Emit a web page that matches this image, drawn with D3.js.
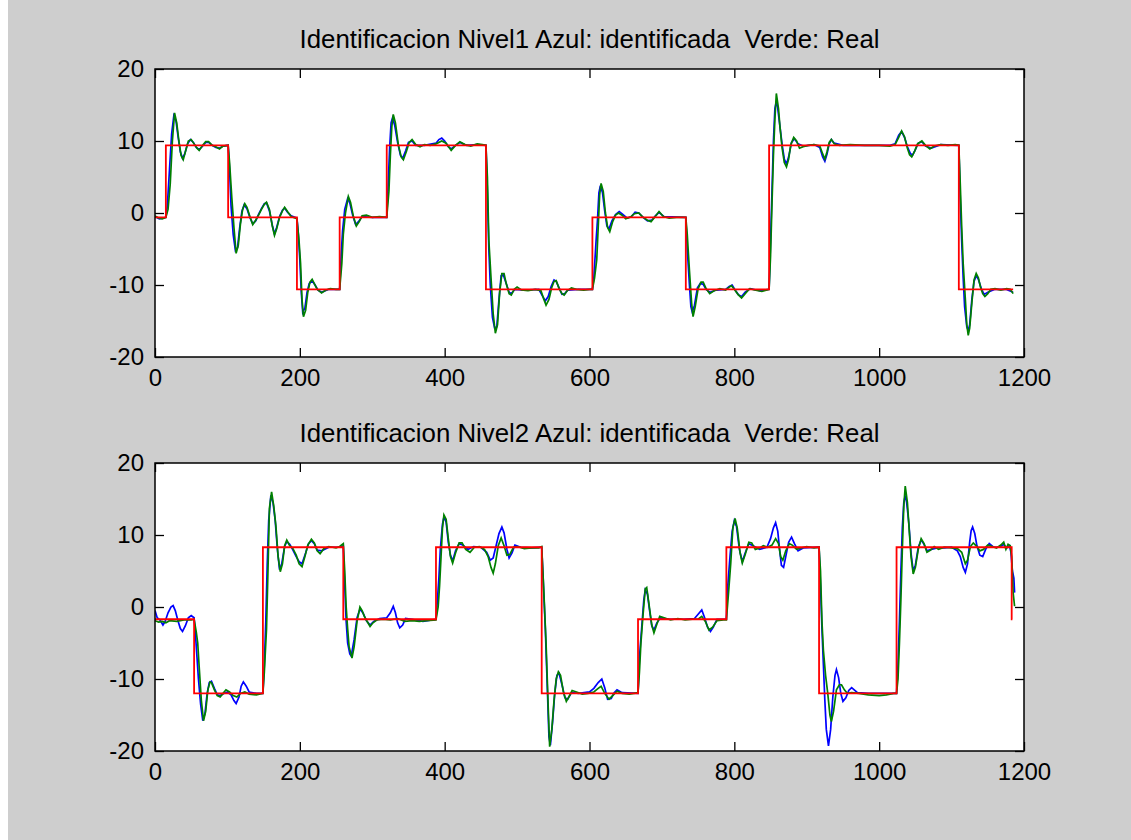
<!DOCTYPE html>
<html>
<head>
<meta charset="utf-8">
<script src="https://cdn.jsdelivr.net/npm/d3@7"></script>
<style>
  html, body { margin: 0; padding: 0; background: #cecece; }
  svg { display: block; }
  text { font-family: "Liberation Sans", Arial, Helvetica, sans-serif; fill: #000; }
</style>
</head>
<body>
<svg id="fig" width="1131" height="840"></svg>
<script>
// ---------------- DATA ----------------
const xTicks = [0, 200, 400, 600, 800, 1000, 1200];
const yTicks = [-20, -10, 0, 10, 20];
const titles = [
  "Identificacion Nivel1 Azul: identificada  Verde: Real",
  "Identificacion Nivel2 Azul: identificada  Verde: Real"
];

// reference (red) step signals: switch times and the level held after each switch
const refTimes1  = [0, 15, 101, 196, 255, 320, 457, 604, 733, 848, 1110, 1185];
const refLevels1 = [-0.6, 9.4, -0.6, -10.6, -0.6, 9.4, -10.6, -0.6, -10.6, 9.4, -10.6];
const refTimes2  = [0, 54, 149, 260, 388, 534, 667, 789, 917, 1024, 1183, 1184];
const refLevels2 = [-1.7, -12.0, 8.3, -1.7, 8.3, -12.0, -1.7, 8.3, -12.0, 8.3, -1.7];

// identified output (blue), level 1
const blue1 = [[0,-0.5],[6,-0.8],[12,-0.7],[15,-0.6],[17,1],[20,6],[23,11],[26,13.5],[29,12.8],[32,10.5],[35,8.5],[38,7.6],[41,8.2],[45,9.6],[49,10.2],[53,9.8],[57,9.1],[61,8.8],[65,9.2],[70,9.8],[74,9.8],[79,9.4],[84,9.1],[89,9.0],[94,9.3],[101,9.4],[103,6],[105,1],[108,-3],[111,-5.2],[114,-4.8],[117,-2],[120,0.2],[123,1.1],[127,0.6],[131,-0.6],[135,-1.5],[139,-1.1],[143,-0.2],[147,0.6],[151,1.3],[154,1.4],[158,0.3],[162,-1.7],[165,-2.9],[168,-2.0],[172,-0.5],[176,0.4],[179,0.7],[183,0.1],[188,-0.4],[196,-0.7],[198,-3],[200,-6.5],[202,-11],[204,-13.8],[207,-13.2],[210,-11],[213,-9.8],[217,-9.4],[221,-10],[225,-10.7],[230,-11.0],[240,-10.6],[255,-10.6],[257,-6],[259,-2.5],[262,0.5],[266,2.0],[269,1.4],[273,-0.3],[277,-1.6],[281,-1.2],[286,-0.5],[300,-0.6],[320,-0.6],[322,4],[324,9],[326,12.5],[328,13.2],[331,12.2],[335,9.8],[339,8],[342,7.6],[346,8.6],[350,9.8],[355,10.0],[360,9.4],[372,9.4],[388,9.7],[392,10.2],[396,10.4],[400,10.0],[405,9.2],[409,8.9],[415,9.4],[421,9.8],[430,9.4],[445,9.5],[457,9.4],[459,3],[461,-5],[463,-10],[466,-14.5],[469,-16],[472,-15.8],[475,-12],[478,-8.7],[481,-8.6],[485,-9.8],[489,-11],[492,-11.2],[497,-10.6],[510,-10.7],[530,-10.6],[535,-11.5],[539,-12.2],[543,-11.6],[547,-10.2],[551,-9.3],[554,-9.5],[558,-10.4],[562,-11.3],[566,-11.2],[570,-10.7],[585,-10.6],[604,-10.6],[606,-9],[609,-4],[611,-1],[613,2.8],[615,3.8],[618,2.8],[621,0.3],[624,-1.8],[627,-2.2],[631,-1.1],[636,-0.2],[641,0.2],[646,-0.2],[652,-0.7],[658,-0.5],[663,0.1],[668,0.0],[674,-0.6],[680,-1.1],[686,-1.0],[691,-0.4],[696,0.1],[703,-0.5],[733,-0.6],[735,-5],[738,-10],[740,-13],[742,-13.8],[745,-12.8],[749,-10.4],[753,-9.8],[757,-9.9],[761,-10.6],[766,-11.0],[775,-10.7],[788,-10.6],[793,-10.2],[797,-10.0],[801,-10.7],[806,-11.4],[810,-11.6],[815,-11.0],[822,-10.5],[835,-10.8],[848,-10.6],[850,-4],[852,3],[854,10],[856,14.5],[858,15.5],[860,14.5],[863,12.0],[866,9.5],[869,7.5],[872,6.8],[875,7.8],[879,9.8],[883,10.3],[888,9.6],[895,9.3],[910,9.5],[918,9.1],[922,7.8],[925,7.2],[928,8.2],[931,9.6],[934,10.2],[938,9.7],[950,9.4],[1000,9.4],[1015,9.4],[1022,9.6],[1027,10.8],[1031,11.3],[1035,10.5],[1039,9.2],[1043,8.3],[1046,8.0],[1050,8.8],[1054,9.7],[1059,9.9],[1064,9.3],[1072,9.0],[1085,9.5],[1110,9.4],[1112,2],[1114,-4],[1116,-9],[1118,-13],[1121,-15.8],[1123,-16.3],[1125,-15.5],[1128,-12],[1131,-9.5],[1134,-8.7],[1137,-9.2],[1141,-10.5],[1145,-11.3],[1150,-11.0],[1160,-10.6],[1175,-10.6],[1185,-11.0]];

// real output (green), level 1
const green1 = [[0,-0.4],[5,-0.7],[10,-0.8],[15,-0.6],[18,0.5],[21,4],[24,10],[27,13.9],[30,12.5],[33,10],[36,8],[39,7.4],[42,8.5],[46,10],[50,10.2],[54,9.6],[58,9],[61,8.7],[65,9.3],[70,9.9],[74,9.9],[79,9.4],[84,9.2],[89,8.9],[94,9.3],[101,9.4],[103,7],[106,2.2],[109,-2],[112,-5.6],[115,-4.5],[118,-1.5],[121,0.5],[124,1.3],[127,0.8],[131,-0.5],[135,-1.6],[139,-1],[143,-0.3],[147,0.5],[151,1.2],[154,1.5],[158,0.5],[162,-1.8],[165,-3.1],[168,-2.2],[172,-0.6],[176,0.3],[179,0.8],[183,0.2],[188,-0.5],[193,-0.7],[196,-0.8],[199,-4],[201,-7],[203,-12],[205,-14.4],[208,-13.5],[211,-11],[214,-9.6],[217,-9.2],[220,-9.8],[224,-10.6],[230,-11.1],[236,-10.7],[242,-10.5],[250,-10.6],[255,-10.6],[258,-7],[260,-3],[263,0],[267,2.3],[270,1.5],[274,-0.5],[278,-1.8],[282,-1.2],[286,-0.4],[292,-0.3],[300,-0.6],[310,-0.5],[320,-0.6],[323,3],[325,8],[327,12],[329,13.7],[332,12.5],[336,9.5],[340,7.8],[343,7.4],[347,8.5],[351,9.8],[355,10.2],[360,9.5],[366,9.2],[372,9.5],[380,9.4],[388,9.6],[396,10.0],[402,9.7],[409,8.7],[415,9.4],[421,9.9],[428,9.5],[436,9.3],[445,9.6],[452,9.5],[457,9.4],[459,5],[461,-3.8],[464,-9],[467,-14],[470,-16.7],[473,-15.5],[476,-11],[479,-8.4],[482,-8.4],[485,-9.8],[489,-11.2],[492,-11.4],[496,-10.6],[500,-10.3],[506,-10.7],[515,-10.8],[525,-10.6],[533,-10.8],[537,-12],[540,-12.8],[544,-12],[548,-10.3],[551,-9.5],[554,-9.4],[558,-10.5],[562,-11.2],[565,-11.4],[569,-10.8],[575,-10.4],[582,-10.6],[592,-10.7],[600,-10.6],[604,-10.6],[607,-9],[610,-6.5],[612,-2],[614,2.5],[616,4.1],[619,3],[622,0],[625,-2],[628,-2.6],[632,-1.2],[636,-0.3],[640,0.0],[645,-0.3],[650,-0.8],[656,-0.6],[662,-0.1],[668,0],[673,-0.5],[680,-1.0],[685,-1.2],[690,-0.6],[696,0.2],[702,-0.5],[710,-0.7],[720,-0.6],[733,-0.6],[735,-3],[738,-8],[741,-12.5],[743,-14.4],[746,-13],[750,-10.5],[754,-9.6],[757,-9.6],[761,-10.5],[766,-11.2],[772,-10.8],[780,-10.5],[788,-10.7],[793,-10.3],[796,-10.1],[800,-10.6],[805,-11.3],[810,-11.8],[815,-11.2],[821,-10.5],[828,-10.7],[838,-10.9],[848,-10.6],[850,-6],[852,1.3],[854,8],[856,13],[858,16.6],[861,14.5],[863,12],[866,9],[869,7],[872,6.4],[875,7.5],[878,9.5],[882,10.5],[886,10],[890,9],[895,9.2],[902,9.4],[910,9.5],[918,9.3],[922,8.2],[925,7.5],[928,8.5],[931,9.8],[934,10.2],[938,9.6],[945,9.4],[960,9.5],[980,9.4],[1000,9.4],[1015,9.3],[1022,9.5],[1027,10.5],[1031,11.4],[1035,10.6],[1039,9.0],[1042,8.1],[1045,7.8],[1049,8.6],[1053,9.6],[1059,10.0],[1064,9.4],[1070,8.9],[1076,9.3],[1085,9.5],[1095,9.4],[1105,9.5],[1110,9.4],[1112,4],[1114,-2],[1116,-7],[1119,-12],[1121,-15.5],[1123,-17.0],[1125,-16],[1128,-12.5],[1131,-9.3],[1134,-8.4],[1137,-9],[1140,-10.3],[1143,-11.2],[1146,-11.6],[1150,-11.2],[1154,-10.6],[1160,-10.5],[1168,-10.7],[1176,-10.5],[1181,-10.6],[1185,-11.2]];

// identified output (blue), level 2
const blue2 = [[0,-0.5],[3,-1.5],[7,-1.8],[11,-2.5],[14,-2.0],[18,-0.8],[22,0.0],[25,0.2],[28,-0.5],[32,-2.0],[35,-3.0],[38,-3.4],[42,-2.6],[46,-1.5],[50,-1.2],[54,-1.5],[56,-4],[58,-7],[60,-10],[63,-13.5],[66,-15.8],[69,-14.8],[72,-12],[75,-10.5],[78,-10.3],[82,-11.3],[86,-12.2],[90,-12.3],[95,-12],[100,-11.8],[105,-12.2],[109,-13.0],[112,-13.4],[116,-12.5],[119,-11],[122,-10.4],[126,-11],[130,-11.8],[140,-12.0],[149,-12.0],[151,-8],[153,-2],[155,6],[157,12],[160,15.5],[163,14.5],[166,12],[169,8],[172,5.2],[175,6],[179,8.4],[182,9.1],[186,8.7],[190,8.0],[195,7.0],[199,6.3],[203,6.0],[208,7.5],[212,8.8],[216,9.2],[220,8.8],[224,7.9],[230,7.8],[240,8.3],[255,8.3],[260,8.5],[262,3],[264,-2],[266,-5],[269,-6.5],[271,-6.8],[275,-4.5],[279,-1.5],[283,-0.3],[287,-0.8],[292,-1.9],[297,-2.5],[302,-2.0],[310,-1.6],[320,-1.5],[325,-0.8],[329,0.1],[332,-0.8],[335,-2.2],[338,-2.9],[342,-2.5],[346,-1.6],[355,-1.7],[370,-2.0],[388,-1.7],[390,1],[392,4],[394,8],[397,11.5],[399,12.5],[402,11.8],[405,9],[408,7.2],[411,6.4],[415,7.8],[420,8.8],[425,8.6],[432,8.0],[440,8.4],[450,8.3],[458,7.6],[463,6.5],[467,6.8],[471,8.5],[475,10.2],[479,11.1],[482,10.3],[486,8.0],[489,6.8],[493,7.5],[497,8.6],[505,8.3],[520,8.2],[534,8.3],[536,4],[539,-3],[542,-12],[544,-18],[546,-19.2],[549,-16],[552,-12],[555,-9.5],[558,-9.2],[562,-10.8],[566,-12.6],[570,-12.8],[575,-11.9],[585,-12.0],[600,-11.8],[606,-11.3],[612,-10.5],[617,-10.0],[621,-11.2],[625,-12.8],[630,-12.7],[634,-11.9],[638,-11.5],[645,-11.9],[667,-12.0],[669,-7],[672,-3],[675,1],[677,2.4],[680,1.8],[683,-0.5],[686,-2.6],[689,-3.2],[693,-2.2],[698,-1.5],[710,-1.7],[730,-1.7],[745,-1.6],[750,-1.0],[755,-0.4],[759,-1.5],[763,-2.8],[767,-3.4],[771,-2.8],[776,-1.7],[789,-1.7],[791,3],[794,7],[797,10.5],[800,12.0],[803,11.2],[807,8],[811,6.3],[815,7.5],[820,8.8],[826,8.5],[835,8.0],[845,8.3],[850,9.5],[854,11.0],[857,11.7],[860,10.5],[863,7.5],[865,5.8],[868,5.5],[871,7],[875,9.0],[879,9.7],[883,8.8],[888,7.8],[895,8.2],[917,8.3],[919,3],[921,-3],[923,-8],[925,-13],[927,-17],[930,-19.3],[933,-17],[936,-12.5],[939,-9.5],[941,-8.7],[944,-9.8],[947,-12.0],[950,-13.1],[954,-12.6],[958,-11.6],[962,-11.2],[970,-11.9],[985,-12.0],[1010,-12.0],[1024,-12.0],[1026,-8],[1028,-2],[1030,5],[1032,11],[1034,14.5],[1036,15.5],[1038,14.5],[1041,11.6],[1044,7.5],[1047,5.0],[1050,5.8],[1054,8.3],[1058,9.3],[1062,8.7],[1066,7.8],[1072,8.0],[1080,8.2],[1090,8.2],[1100,8.3],[1108,7.8],[1112,7.0],[1116,5.5],[1119,4.8],[1122,6.0],[1125,9.0],[1127,10.6],[1129,11.1],[1132,10.2],[1135,8.5],[1139,7.2],[1143,7.0],[1147,8.0],[1152,8.8],[1158,8.3],[1166,8.3],[1172,8.7],[1176,8.2],[1180,8.5],[1182,7.6],[1184,5],[1186,4],[1187,2]];

// real output (green), level 2
const green2 = [[0,-1.9],[5,-2.1],[10,-2.0],[15,-2.2],[20,-1.9],[30,-2.0],[40,-1.8],[50,-1.8],[54,-1.7],[57,-3.5],[59,-5],[61,-8.3],[64,-13],[67,-15.8],[70,-14.5],[73,-11.5],[76,-10.4],[78,-10.5],[82,-11.5],[86,-12.3],[90,-12.5],[94,-12],[98,-11.5],[103,-11.8],[108,-12.3],[113,-12.5],[118,-12],[124,-11.8],[130,-12.1],[140,-12.2],[149,-12.0],[151,-9],[154,-3],[156,5],[158,13.7],[161,16.0],[164,14],[167,11.2],[170,7],[173,4.9],[176,6],[179,8.5],[182,9.3],[186,8.5],[190,8.2],[195,7.2],[199,6.0],[203,5.6],[207,7],[211,8.6],[216,9.4],[220,8.9],[224,7.8],[228,7.4],[233,8.1],[240,8.4],[250,8.2],[255,8.4],[260,8.8],[262,5],[264,0],[266,-3],[268,-5.5],[272,-7.1],[275,-5.5],[279,-2],[283,0.0],[286,-0.5],[290,-1.5],[297,-2.7],[301,-2.2],[306,-1.8],[315,-1.7],[325,-1.8],[335,-1.6],[345,-2.0],[355,-1.9],[365,-2.0],[375,-1.9],[388,-1.8],[391,0],[393,3],[395,7],[397,11],[399,12.8],[402,12.2],[405,9.5],[408,7],[411,6.1],[415,7.5],[420,8.9],[424,8.9],[429,8.0],[435,7.6],[441,8.3],[448,8.4],[455,8.0],[460,7.0],[464,5.5],[467,4.7],[470,6],[474,8.5],[478,9.6],[482,8.5],[486,7.2],[490,7.3],[495,8.3],[500,8.4],[510,8.1],[520,8.2],[530,8.2],[534,8.4],[537,2],[540,-5],[543,-14],[545,-19.4],[548,-17],[551,-13],[554,-10],[557,-9.0],[560,-9.5],[564,-11.8],[568,-13.1],[572,-12.4],[576,-11.6],[582,-11.8],[590,-12.1],[598,-12.0],[606,-11.8],[612,-11.3],[616,-11.0],[621,-12.0],[627,-12.8],[632,-12.3],[638,-11.7],[645,-12],[655,-12.1],[667,-11.9],[669,-9],[671,-5],[674,-1],[677,2.5],[679,2.7],[682,0.5],[686,-2.5],[689,-3.6],[693,-2.4],[697,-1.3],[703,-1.5],[712,-1.8],[722,-1.6],[732,-1.8],[742,-1.7],[750,-1.7],[755,-1.3],[760,-2],[765,-3.2],[770,-2.8],[776,-1.9],[785,-1.8],[789,-1.8],[792,2],[795,6],[798,11],[801,12.3],[804,11],[808,7.5],[811,6.1],[815,7.3],[820,9],[824,8.9],[829,8.0],[835,8.2],[840,8.5],[846,8.3],[852,8.6],[857,9.5],[861,8.8],[864,7.0],[867,6.5],[871,7.8],[876,8.8],[880,8.6],[886,8.0],[892,8.2],[900,8.4],[910,8.2],[917,8.3],[919,5],[921,-2],[923,-6],[926,-9.5],[929,-12],[932,-15],[934,-15.9],[937,-14.5],[941,-11.5],[945,-10.8],[948,-10.8],[952,-11.5],[956,-12],[962,-11.9],[972,-12.0],[985,-12.2],[1000,-12.3],[1010,-12.2],[1020,-12.0],[1024,-12.0],[1026,-10],[1028,-5],[1030,1],[1032,8],[1034,14],[1036,16.8],[1039,14.5],[1041,11.4],[1044,7],[1047,4.6],[1050,5.5],[1054,8],[1058,9.5],[1062,8.8],[1066,7.6],[1071,7.9],[1076,8.4],[1082,8.0],[1090,8.3],[1100,8.2],[1108,8.1],[1114,7.6],[1119,6.0],[1122,6.5],[1126,8.4],[1130,8.9],[1134,8.5],[1139,7.8],[1144,8.0],[1150,8.6],[1156,8.4],[1162,8.2],[1168,8.6],[1172,9.0],[1175,8.0],[1178,8.7],[1181,8.5],[1183,7],[1185,2],[1187,0.1]];

// ---------------- DRAW ----------------
const svg = d3.select("#fig");
svg.append("rect").attr("x", 0).attr("y", 0).attr("width", 1131).attr("height", 840).attr("fill", "#cecece");
svg.append("rect").attr("x", 0).attr("y", 0).attr("width", 8).attr("height", 840).attr("fill", "#ffffff");

const panels = [
  { top: 69, bottom: 357, title: titles[0], blue: blue1, green: green1, rt: refTimes1, rl: refLevels1 },
  { top: 463, bottom: 751, title: titles[1], blue: blue2, green: green2, rt: refTimes2, rl: refLevels2 }
];
const left = 155, right = 1024;
const fmt = d => String(d);

function refPoints(times, levels) {
  const pts = levels.map((lv, i) => [times[i], lv]);
  pts.push([times[times.length - 1], levels[levels.length - 1]]);
  return pts;
}

panels.forEach((p, idx) => {
  const x = d3.scaleLinear().domain([0, 1200]).range([left, right]);
  const y = d3.scaleLinear().domain([-20, 20]).range([p.bottom, p.top]);
  const g = svg.append("g");

  g.append("rect").attr("x", left).attr("y", p.top)
    .attr("width", right - left).attr("height", p.bottom - p.top).attr("fill", "#ffffff");

  const clipId = "clip" + idx;
  g.append("clipPath").attr("id", clipId).append("rect")
    .attr("x", left).attr("y", p.top).attr("width", right - left).attr("height", p.bottom - p.top);

  const line = d3.line().x(d => x(d[0])).y(d => y(d[1]));
  const stepLine = d3.line().x(d => x(d[0])).y(d => y(d[1])).curve(d3.curveStepAfter);

  const lines = g.append("g").attr("clip-path", `url(#${clipId})`);
  lines.append("path").datum(p.blue).attr("d", line)
    .attr("fill", "none").attr("stroke", "#0000ff").attr("stroke-width", 1.7);
  lines.append("path").datum(p.green).attr("d", line)
    .attr("fill", "none").attr("stroke", "#008000").attr("stroke-width", 1.7);
  lines.append("path").datum(refPoints(p.rt, p.rl)).attr("d", stepLine)
    .attr("fill", "none").attr("stroke", "#ff0000").attr("stroke-width", 1.8);

  // axes
  const axB = d3.axisBottom(x).tickValues(xTicks).tickFormat(fmt).tickSizeInner(-9).tickSizeOuter(0).tickPadding(12);
  const axL = d3.axisLeft(y).tickValues(yTicks).tickFormat(fmt).tickSizeInner(-9).tickSizeOuter(0).tickPadding(11);
  const axT = d3.axisTop(x).tickValues(xTicks).tickSizeInner(-9).tickSizeOuter(0).tickFormat("");
  const axR = d3.axisRight(y).tickValues(yTicks).tickSizeInner(-9).tickSizeOuter(0).tickFormat("");

  const styleAxis = sel => {
    sel.select(".domain").remove();
    sel.selectAll(".tick line").attr("stroke", "#000").attr("stroke-width", 1.3);
    sel.selectAll(".tick text").attr("font-size", 24).attr("fill", "#000")
      .style("font-family", '"Liberation Sans", Arial, sans-serif');
  };
  g.append("g").attr("transform", `translate(0,${p.bottom})`).call(axB).call(styleAxis);
  g.append("g").attr("transform", `translate(${left},0)`).call(axL).call(styleAxis);
  g.append("g").attr("transform", `translate(0,${p.top})`).call(axT).call(styleAxis);
  g.append("g").attr("transform", `translate(${right},0)`).call(axR).call(styleAxis);

  g.append("rect").attr("x", left).attr("y", p.top)
    .attr("width", right - left).attr("height", p.bottom - p.top)
    .attr("fill", "none").attr("stroke", "#000").attr("stroke-width", 1.5);

  g.append("text").attr("x", (left + right) / 2).attr("y", p.top - 21)
    .attr("text-anchor", "middle").attr("font-size", 25)
    .attr("textLength", 580).attr("lengthAdjust", "spacingAndGlyphs")
    .style("white-space", "pre")
    .text(p.title);
});
</script>
</body>
</html>
